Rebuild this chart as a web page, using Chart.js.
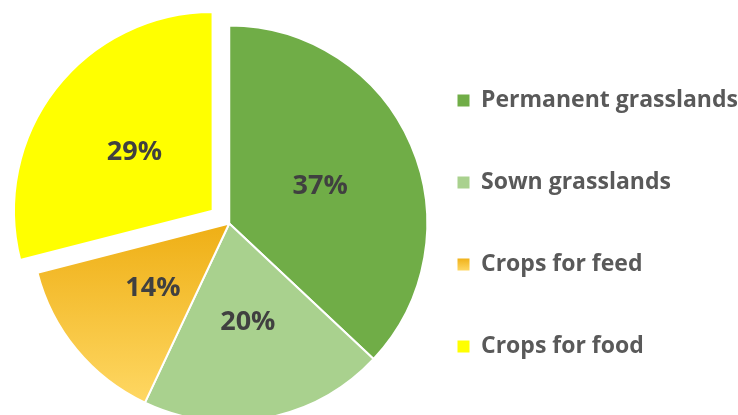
<!DOCTYPE html>
<html lang="en">
<head>
<meta charset="UTF-8">
<title>Land use</title>
<style>
body { margin:0; padding:0; background:#fff; }
#wrap { width:738px; height:415px; }
</style>
</head>
<body>
<div id="wrap"><canvas id="chart" width="738" height="415"></canvas></div>
<script src="https://cdn.jsdelivr.net/npm/chart.js"></script>
<script>
// data
const labels = ['Permanent grasslands', 'Sown grasslands', 'Crops for feed', 'Crops for food'];
const shares = [37, 20, 14, 29];
const explode = [0, 0, 0, 84];   // chart.js v4 moves a slice by offset/4

const FONT = '"Open Sans", sans-serif';

// orange gradient for the "crops for feed" slice
function feedFill(ctx, y0, y1) {
  const g = ctx.createLinearGradient(0, y0, 0, y1);
  g.addColorStop(0, '#EFB017');
  g.addColorStop(1, '#FFD966');
  return g;
}

const sliceColor = (c) => {
  const i = c.dataIndex;
  if (i === 2) return feedFill(c.chart.ctx, 228, 410);
  return ['#70AD47', '#A9D18E', null, '#FFFF00'][i];
};

// percentage labels in the slices
const pctLabels = {
  id: 'pctLabels',
  afterDatasetsDraw(chart) {
    const ctx = chart.ctx;
    const meta = chart.getDatasetMeta(0);
    ctx.save();
    ctx.font = 'bold 27px ' + FONT;
    ctx.fillStyle = '#404040';
    ctx.textAlign = 'center';
    ctx.textBaseline = 'middle';
    meta.data.forEach((arc, i) => {
      const mid = (arc.startAngle + arc.endAngle) / 2;
      const r = arc.outerRadius / 2 + explode[i] / 4;
      ctx.fillText(shares[i] + '%', arc.x + Math.cos(mid) * r, arc.y + Math.sin(mid) * r + 2);
    });
    ctx.restore();
  }
};

new Chart(document.getElementById('chart'), {
  type: 'pie',
  data: {
    labels: labels,
    datasets: [{
      data: shares,
      backgroundColor: sliceColor,
      borderColor: '#ffffff',
      borderWidth: 2,
      offset: explode,
      radius: 198,
      clip: false
    }]
  },
  options: {
    responsive: false,
    devicePixelRatio: 1,
    animation: false,
    layout: { padding: { top: 16, left: 60, right: 1, bottom: -16 } },
    plugins: {
      tooltip: { enabled: false },
      // empty title only pushes the pie down, not the legend
      title: {
        display: true,
        text: '',
        fullSize: false,
        padding: 0,
        font: { size: 16, lineHeight: 1 }
      },
      legend: {
        position: 'right',
        labels: {
          boxWidth: 12,
          boxHeight: 12,
          padding: 59,
          color: '#595959',
          font: { family: FONT, weight: 'bold', size: 23 },
          generateLabels(chart) {
            const items = Chart.overrides.pie.plugins.legend.labels.generateLabels(chart);
            items.forEach((it, i) => {
              it.strokeStyle = 'rgba(0,0,0,0)';
              it.lineWidth = 0;
              if (i === 2) it.fillStyle = feedFill(chart.ctx, 258, 271);
            });
            return items;
          }
        }
      }
    }
  },
  plugins: [pctLabels]
});
</script>
</body>
</html>
